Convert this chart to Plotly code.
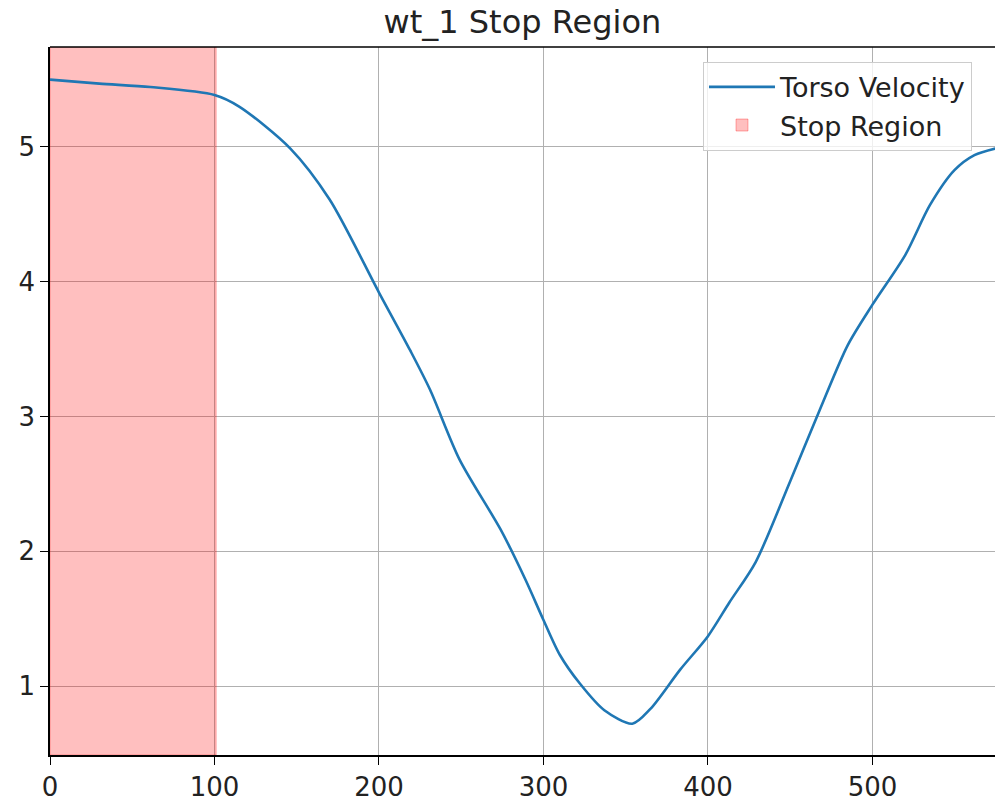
import plotly.graph_objects as go

# Data
frame = [0, 30, 61, 100, 115, 146, 170, 200, 219, 231, 249, 274, 289, 300, 310,
         322, 337, 354, 365, 383, 400, 413, 429, 450, 468, 485, 500, 520, 535,
         550, 562, 575]
torso_velocity = [5.50, 5.47, 5.445, 5.386, 5.30, 4.99, 4.61, 3.92, 3.49, 3.20,
                  2.68, 2.16, 1.79, 1.49, 1.23, 1.02, 0.82, 0.72, 0.83, 1.12,
                  1.37, 1.62, 1.92, 2.52, 3.05, 3.53, 3.83, 4.20, 4.57, 4.83,
                  4.94, 4.99]
stop_start, stop_end = 0, 101
x_ticks = [0, 100, 200, 300, 400, 500]
y_ticks = [1, 2, 3, 4, 5]
x_range = [0, 574.5]
y_range = [0.488, 5.742]

fig = go.Figure()

fig.add_trace(go.Scatter(
    x=frame, y=torso_velocity, mode="lines", name="Torso Velocity",
    line=dict(color="#1f77b4", width=2.6, shape="spline", smoothing=0.8),
))
fig.add_trace(go.Bar(
    x=[(stop_start + stop_end) / 2], width=[stop_end - stop_start],
    y=[y_range[1] - y_range[0]], base=[y_range[0]],
    marker=dict(color="rgba(255,0,0,0.25)",
                line=dict(color="rgba(255,0,0,0.3)", width=1)),
    name="Stop Region", hoverinfo="skip",
))

fig.update_layout(
    width=995, height=807,
    margin=dict(l=50, r=0, t=47, b=52),
    paper_bgcolor="white", plot_bgcolor="white",
    font=dict(family="DejaVu Sans", size=26, color="#222"),
    title=dict(text="wt_1 Stop Region", x=0.525, xanchor="center",
               y=0.973, yanchor="middle", font=dict(size=32, color="#222")),
    showlegend=True,
    legend=dict(x=0.691, xanchor="left", y=0.979, yanchor="top",
                bgcolor="rgba(255,255,255,0.8)", bordercolor="#cccccc",
                borderwidth=1, font=dict(size=27), itemwidth=66,
                tracegroupgap=0),
    xaxis=dict(range=x_range, tickvals=x_ticks, showgrid=True,
               gridcolor="#b0b0b0", gridwidth=1, showline=True,
               linecolor="black", linewidth=1.5, automargin=False,
               ticks="outside", ticklen=8, tickcolor="black", zeroline=False),
    yaxis=dict(range=y_range, tickvals=y_ticks, showgrid=True,
               gridcolor="#b0b0b0", gridwidth=1, showline=True,
               linecolor="black", linewidth=1.5, automargin=False,
               ticks="outside", ticklen=8, tickcolor="black", zeroline=False),
)
# top spine
fig.add_shape(type="line", xref="paper", yref="paper", x0=0, x1=1, y0=1, y1=1,
              line=dict(color="black", width=1.5))

fig.write_html("out.html",
               config={"displayModeBar": False},
               post_script="document.body.style.margin='0px';"
                           "document.body.style.overflow='hidden';")
